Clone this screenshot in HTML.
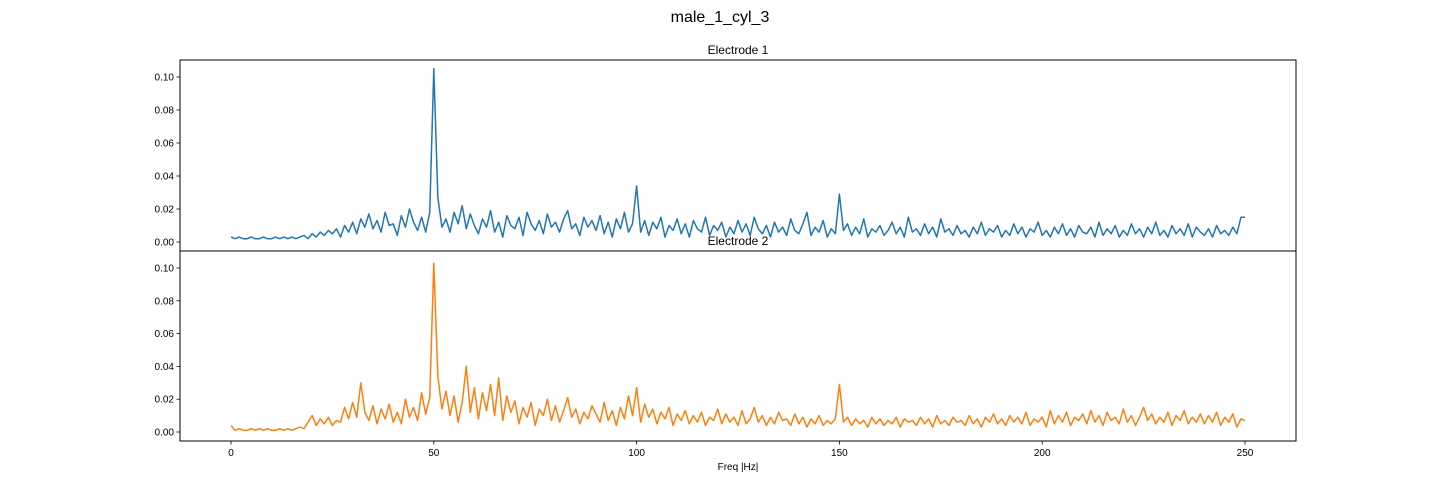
<!DOCTYPE html>
<html><head><meta charset="utf-8">
<style>
body{margin:0;background:#fff;}
svg{display:block;font-family:"Liberation Sans","DejaVu Sans",sans-serif;}
</style></head>
<body>
<svg id="fig" width="1440" height="504" viewBox="0 0 1440 504">
<rect width="1440" height="504" fill="#fff"/>
<text x="720" y="22" font-size="16" text-anchor="middle">male_1_cyl_3</text>
<text x="738" y="54" font-size="12" text-anchor="middle">Electrode 1</text>
<text x="738" y="245" font-size="12" text-anchor="middle">Electrode 2</text>
<text x="738" y="470" font-size="10" text-anchor="middle">Freq |Hz|</text>
<g id="plots"></g>
</svg>
<script>
// frequency in Hz (1 Hz bins), values in units of 1e-3
const freqs = Array.from({length:251},(_,i)=>i);
const electrode1 = [
3,2,3,2,2,3,2,2,3,2, 2,3,2,3,2,3,2,3,4,2,
5,3,6,4,7,5,8,3,10,6, 12,5,14,9,17,8,13,6,18,10,
11,4,16,9,20,12,7,15,6,18, 105,27,9,14,6,18,11,22,8,17,
10,5,14,9,19,6,12,3,16,10, 8,15,4,18,11,7,13,5,17,9,
12,6,14,19,8,11,4,15,9,13, 7,16,5,12,3,14,8,18,6,11,
34,6,13,4,12,8,15,3,10,7, 14,5,11,3,13,8,6,15,4,10,
7,12,3,9,5,13,6,11,4,15, 8,5,10,3,12,6,9,4,14,7,
5,11,18,4,9,6,13,3,8,5, 29,7,11,4,9,5,14,3,8,6,
10,4,7,12,5,9,3,15,6,8, 4,11,5,9,3,14,6,8,4,10,
5,7,3,9,5,12,4,8,6,10, 3,7,4,11,5,9,3,8,6,12,
4,7,3,9,5,11,4,8,3,10, 6,5,9,3,12,4,8,5,10,3,
7,4,11,5,8,3,9,5,12,4, 7,3,10,5,8,4,11,3,9,6,
4,8,3,10,5,7,4,9,5,15, 15
];
const electrode2 = [
4,1,2,1,1,2,1,2,1,2, 1,1,2,1,2,1,2,3,2,6,
10,4,8,5,9,4,7,6,15,8, 18,9,30,12,7,16,5,14,8,17,
6,12,5,20,9,15,7,24,11,21, 103,34,14,25,10,22,6,18,40,12,
27,8,24,13,29,10,33,7,22,12, 19,5,15,9,18,4,14,10,20,7,
16,6,13,21,9,14,5,12,8,16, 11,6,18,7,13,4,15,8,22,10,
27,6,17,9,14,5,12,8,15,4, 11,7,13,5,10,6,12,4,9,7,
14,5,11,6,9,4,13,5,8,15, 6,10,4,9,5,12,7,8,4,11,
5,9,3,8,5,10,4,7,5,8, 29,6,9,4,8,5,7,3,9,5,
8,4,7,5,9,3,8,6,7,4, 9,5,8,3,10,5,7,4,9,6,
7,4,10,5,8,3,9,6,11,5, 8,4,10,6,9,5,12,4,8,6,
9,3,13,5,10,6,12,4,9,7, 11,5,13,6,10,4,12,7,9,5,
14,6,10,4,9,15,7,11,5,9, 6,12,4,10,7,13,5,9,6,11,
5,10,6,12,4,9,6,11,3,8, 7
];
const xTicks = [0,50,100,150,200,250];
const yTicks = [0,0.02,0.04,0.06,0.08,0.10];
const yTickLabels = ["0.00","0.02","0.04","0.06","0.08","0.10"];

const NS="http://www.w3.org/2000/svg";
const g=document.getElementById('plots');
const xL=180,xR=1296;
const xS=f=>231+(f-0)*(1245-231)/250;
function mk(tag,attrs){const e=document.createElementNS(NS,tag);for(const k in attrs)e.setAttribute(k,attrs[k]);return e;}

const panels=[
 {top:60,bot:251,y0:242,y10:77,data:electrode1,color:"#1f77b4",name:"top"},
 {top:251,bot:441,y0:432,y10:268,data:electrode2,color:"#ff7f0e",name:"bottom"}
];
panels.forEach((p,pi)=>{
  const yS=v=>p.y0+(v/0.1)*(p.y10-p.y0);
  let d="";
  p.data.forEach((v,i)=>{d+=(i?"L":"M")+xS(freqs[i]).toFixed(2)+","+yS(v/1000).toFixed(2);});
  const line=mk('path',{d:d,fill:'none',stroke:p.color,'stroke-width':1.5,'stroke-linejoin':'round'});
  
  
  g.appendChild(line);
  const box=mk('rect',{x:xL,y:p.top,width:xR-xL,height:p.bot-p.top,fill:'none',stroke:'#000','stroke-width':1});
  
  
  g.appendChild(box);
  yTicks.forEach((t,i)=>{
    const y=yS(t);
    const tk=mk('line',{x1:xL-3.5,x2:xL,y1:y,y2:y,stroke:'#000','stroke-width':0.8});
    
    
    g.appendChild(tk);
    const tx=mk('text',{x:xL-6,y:y+3.5,'font-size':10,'text-anchor':'end'});
    tx.textContent=yTickLabels[i];
    
    
    g.appendChild(tx);
  });
  if(pi===1){
    xTicks.forEach(t=>{
      const x=xS(t);
      const tk=mk('line',{x1:x,x2:x,y1:p.bot,y2:p.bot+3.5,stroke:'#000','stroke-width':0.8});
      
      
      g.appendChild(tk);
      const tx=mk('text',{x:x,y:p.bot+15,'font-size':10,'text-anchor':'middle'});
      tx.textContent=String(t);
      
      
      g.appendChild(tx);
    });
  }
});
</script>
</body></html>
